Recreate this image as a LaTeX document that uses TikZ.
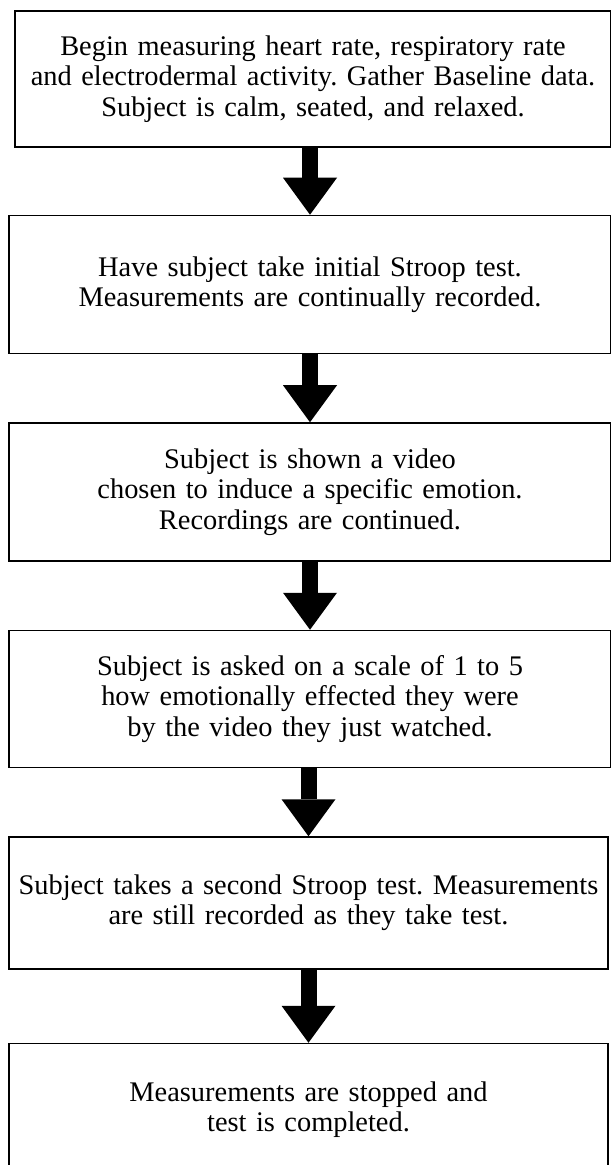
\documentclass[tikz,border=0pt]{standalone}
\usepackage{fontspec}
\setmainfont{Liberation Serif}
\frenchspacing
\usetikzlibrary{positioning,arrows.meta}

\tikzset{
    stepbox/.style={draw, line width=0.75pt, align=center, text width=298pt,
        inner sep=0pt, minimum width=301pt, minimum height=69pt,
        font=\fontsize{14.2}{15.2}\selectfont},
    flow/.style={line width=8pt, -{Triangle[width=27pt, length=18.5pt, line width=0pt]}}
}

\begin{document}
\begin{tikzpicture}[node distance=34pt]
    \useasboundingbox (0,0) rectangle (305pt,-582.5pt);
    \node[stepbox, minimum width=298pt, minimum height=68pt] (s1) at (156.5pt,-39.5pt)
        {Begin measuring heart rate, respiratory rate\\and electrodermal activity. Gather Baseline data.\\Subject is calm, seated, and relaxed.};
    \node[stepbox, below=of s1, xshift=-1.5pt, yshift=0.5pt] (s2)
        {Have subject take initial Stroop test.\\Measurements are continually recorded.};
    \node[stepbox, below=of s2] (s3)
        {Subject is shown a video\\chosen to induce a specific emotion.\\Recordings are continued.};
    \node[stepbox, below=of s3, minimum height=68.5pt] (s4)
        {Subject is asked on a scale of 1 to 5\\how emotionally effected they were\\by the video they just watched.};
    \node[stepbox, below=of s4, xshift=-0.75pt, minimum width=299.5pt, minimum height=66pt] (s5)
        {Subject takes a second Stroop test. Measurements\\are still recorded as they take test.};
    \node[stepbox, below=of s5, yshift=-2.5pt, minimum width=299.5pt, minimum height=66pt] (s6)
        {Measurements are stopped and\\test is completed.};

    \draw[flow] (s1.south -| s2.north) -- (s2.north);
    \draw[flow] (s2.south) -- (s3.north);
    \draw[flow] (s3.south) -- (s4.north);
    \draw[flow] (s4.south -| s5.north) -- (s5.north);
    \draw[flow] (s5.south) -- (s6.north);
\end{tikzpicture}
\end{document}
